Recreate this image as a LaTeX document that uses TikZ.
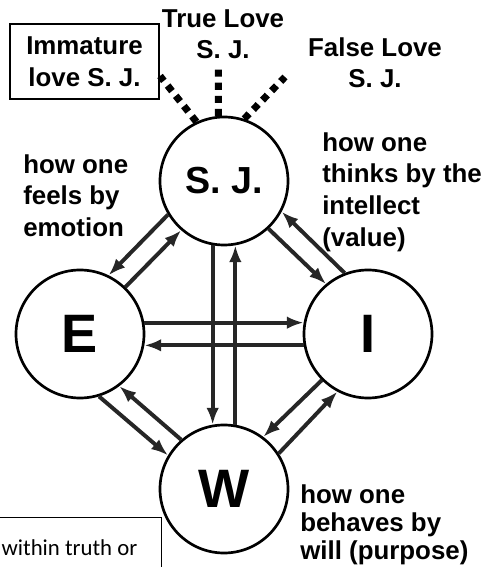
\documentclass[tikz,border=0pt]{standalone}
\usepackage{fontspec}
\setmainfont{Liberation Sans}
\newfontfamily\calfont{Carlito}
\usetikzlibrary{arrows.meta,positioning}

\begin{document}
\begin{tikzpicture}[
    facet/.style={circle,draw,line width=1.9pt,minimum size=3.2cm,inner sep=0pt,font=\bfseries\fontsize{38.5}{40}\selectfont},
    conn/.style={line width=2.8pt,draw=black!85,-{Latex[length=12pt,width=9pt]}},
    sjdots/.style={line width=5pt,dash pattern=on 5pt off 4.3pt},
    note/.style={align=left,inner sep=0pt,font=\bfseries\fontsize{18.4}{22.7}\selectfont}
  ]
    \clip (0,0) rectangle (12.225,14.175);

    \node[facet,font=\bfseries\fontsize{26.8}{28}\selectfont] (sj) at (5.6,9.65) {S. J.};
    \node[facet] (emo) at (2.0,5.825) {E};
    \node[facet] (intel) at (9.2,5.825) {I};
    \node[facet] (will) at (5.6,1.95) {W};

    \node[note,anchor=north west] (lblemo) at (0.575,10.325) {how one\\feels by\\emotion};
    \node[note,anchor=north west] (lblintel) at (8.05,10.875) {how one\\thinks by the\\intellect\\(value)};
    \node[note,anchor=north west,font=\bfseries\fontsize{18.4}{20}\selectfont] (lblwill) at (7.5,2.06) {how one\\behaves by\\will (purpose)};
    \node[note,align=center,anchor=north] (lbltrue) at (5.575,13.95) {True Love\\S. J.};
    \node[note,align=center,anchor=north] (lblfalse) at (9.375,13.25) {False Love\\S. J.};
    \node[note,draw,line width=1pt,align=center,minimum width=3.725cm,minimum height=1.875cm] (lblimm) at (2.1125,12.6375) {Immature\\love S. J.};
    \node[draw,line width=1pt,anchor=north east,inner xsep=0.6cm,inner ysep=0.5cm,font=\calfont\fontsize{16.2}{18}\selectfont] (lbltruth) at (4.05,1.25) {within truth or\strut};

    \coordinate (dotl) at (4.0,12.275);
    \coordinate (dotm) at (5.46,12.45);
    \coordinate (dotr) at (7.125,12.25);

    \foreach \from/\to in {sj.115/dotl,sj.95/dotm,sj.72/dotr}
        \draw[sjdots] (\from)--(\to);

    \foreach \from/\to in {sj.211/emo.64,emo.46/sj.229,intel.111/sj.332,sj.313/intel.130,emo.287/will.149,will.131/emo.307,intel.225/will.53,will.33/intel.242,sj.260/will.100,will.80/sj.280,emo.10/intel.170,intel.190/emo.350}
        \draw[conn] (\from)--(\to);
\end{tikzpicture}
\end{document}
